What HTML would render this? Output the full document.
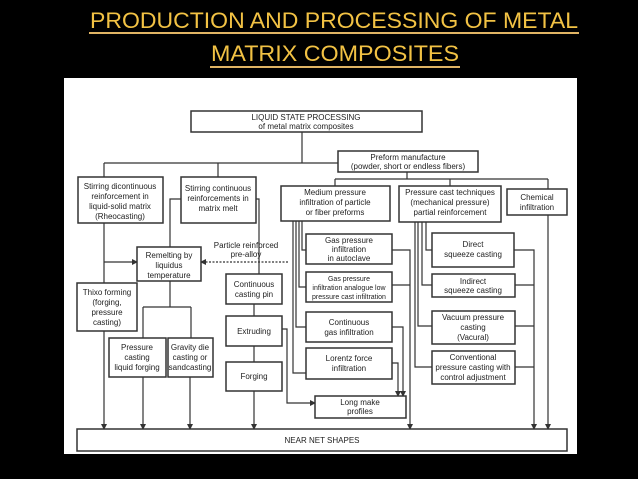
<!DOCTYPE html>
<html><head><meta charset="utf-8"><style>
html,body{margin:0;padding:0;background:#000;width:638px;height:479px;overflow:hidden}
svg{display:block}
.t{font-family:"Liberation Sans",sans-serif;font-size:8px;fill:#222;text-anchor:middle}
.b{fill:#fff;stroke:#333;stroke-width:1.5}
.l{stroke:#333;stroke-width:1.2;fill:none}
</style></head><body>
<svg width="638" height="479" viewBox="0 0 638 479" xmlns="http://www.w3.org/2000/svg">
<defs><marker id="a" markerWidth="6" markerHeight="6" refX="5" refY="3" orient="auto" markerUnits="userSpaceOnUse"><path d="M0,0 L6,3 L0,6z" fill="#333"/></marker></defs>
<text x="90" y="28" textLength="488" lengthAdjust="spacingAndGlyphs" style="font-family:'Liberation Sans',sans-serif;font-size:22px;fill:#f2c244">PRODUCTION AND PROCESSING OF METAL</text>
<rect x="89" y="32" width="490" height="2" fill="#e0b464"/>
<text x="211" y="61" textLength="248" lengthAdjust="spacingAndGlyphs" style="font-family:'Liberation Sans',sans-serif;font-size:22px;fill:#f2c244">MATRIX COMPOSITES</text>
<rect x="210" y="66" width="250" height="2" fill="#e0b464"/>
<rect x="64" y="78" width="513" height="376" fill="#fff"/>

<!-- connectors -->
<path class="l" d="M302 132V163M104 163H338M104 163V177M218 163V177"/>
<path class="l" d="M407 172V179M335 179H548M335 179V186M450 179V186M548 179V189"/>
<path class="l" d="M104 223V429" marker-end="url(#a)"/>
<path class="l" d="M104 262H137" marker-end="url(#a)"/>
<path class="l" d="M181 199H170V247M256 199H259V274"/>
<path class="l" d="M288 262H201" stroke-dasharray="2,1.5" marker-end="url(#a)"/>
<path class="l" d="M170 281V307M143 307H191M143 307V338M191 307V338"/>
<path class="l" d="M143 377V429" marker-end="url(#a)"/>
<path class="l" d="M190 377V429" marker-end="url(#a)"/>
<path class="l" d="M254 304V316M254 346V362"/>
<path class="l" d="M254 391V429" marker-end="url(#a)"/>
<path class="l" d="M282 329H287V403H315" marker-end="url(#a)"/>
<path class="l" d="M293 220V373H306M296 220V327H306M299 220V287H306M302 220V250H306"/>
<path class="l" d="M392 250H410V429" marker-end="url(#a)"/>
<path class="l" d="M392 285H410"/>
<path class="l" d="M392 327H403V396" marker-end="url(#a)"/>
<path class="l" d="M392 363H398V396" marker-end="url(#a)"/>
<path class="l" d="M415 222V367H432M418 222V326H432M422 222V285H432M426 222V250H432"/>
<path class="l" d="M514 250H534V429" marker-end="url(#a)"/>
<path class="l" d="M515 285H534M515 326H534M515 367H534"/>
<path class="l" d="M548 215V429" marker-end="url(#a)"/>

<!-- boxes -->
<rect class="b" x="191" y="111" width="231" height="21"/>
<text class="t" x="306" y="120">LIQUID STATE PROCESSING</text><text class="t" x="306" y="129">of metal matrix composites</text>
<rect class="b" x="338" y="151" width="140" height="21"/>
<text class="t" x="408" y="160">Preform manufacture</text><text class="t" x="408" y="169">(powder, short or endless fibers)</text>
<rect class="b" x="78" y="177" width="85" height="46"/>
<text class="t" x="120" y="189">Stirring dicontinuous</text><text class="t" x="120" y="199">reinforcement in</text><text class="t" x="120" y="209">liquid-solid matrix</text><text class="t" x="120" y="219">(Rheocasting)</text>
<rect class="b" x="181" y="177" width="75" height="46"/>
<text class="t" x="218" y="191">Stirring continuous</text><text class="t" x="218" y="201">reinforcements in</text><text class="t" x="218" y="211">matrix melt</text>
<rect class="b" x="281" y="186" width="109" height="35"/>
<text class="t" x="335" y="195">Medium pressure</text><text class="t" x="335" y="205">infiltration of particle</text><text class="t" x="335" y="215">or fiber preforms</text>
<rect class="b" x="399" y="186" width="102" height="36"/>
<text class="t" x="450" y="195">Pressure cast techniques</text><text class="t" x="450" y="205">(mechanical pressure)</text><text class="t" x="450" y="215">partial reinforcement</text>
<rect class="b" x="507" y="189" width="60" height="26"/>
<text class="t" x="537" y="200">Chemical</text><text class="t" x="537" y="210">infiltration</text>
<text class="t" x="246" y="248">Particle reinforced</text><text class="t" x="246" y="257">pre-alloy</text>
<rect class="b" x="137" y="247" width="64" height="34"/>
<text class="t" x="169" y="258">Remelting by</text><text class="t" x="169" y="268">liquidus</text><text class="t" x="169" y="278">temperature</text>
<rect class="b" x="77" y="283" width="60" height="48"/>
<text class="t" x="107" y="295">Thixo forming</text><text class="t" x="107" y="305">(forging,</text><text class="t" x="107" y="315">pressure</text><text class="t" x="107" y="325">casting)</text>
<rect class="b" x="109" y="338" width="57" height="39"/>
<text class="t" x="137" y="350">Pressure</text><text class="t" x="137" y="360">casting</text><text class="t" x="137" y="370">liquid forging</text>
<rect class="b" x="168" y="338" width="45" height="39"/>
<text class="t" x="190" y="350">Gravity die</text><text class="t" x="190" y="360">casting or</text><text class="t" x="190" y="370">sandcasting</text>
<rect class="b" x="226" y="274" width="56" height="30"/>
<text class="t" x="254" y="287">Continuous</text><text class="t" x="254" y="297">casting pin</text>
<rect class="b" x="226" y="316" width="56" height="30"/>
<text class="t" x="254" y="334">Extruding</text>
<rect class="b" x="226" y="362" width="56" height="29"/>
<text class="t" x="254" y="379">Forging</text>
<rect class="b" x="306" y="234" width="86" height="30"/>
<text class="t" x="349" y="243">Gas pressure</text><text class="t" x="349" y="252">infiltration</text><text class="t" x="349" y="261">in autoclave</text>
<rect class="b" x="306" y="272" width="86" height="30"/>
<text class="t" x="349" y="281" style="font-size:7px">Gas pressure</text><text class="t" x="349" y="290" style="font-size:7px">infiltration analogue low</text><text class="t" x="349" y="299" style="font-size:7px">pressure cast infiltration</text>
<rect class="b" x="306" y="312" width="86" height="30"/>
<text class="t" x="349" y="325">Continuous</text><text class="t" x="349" y="335">gas infiltration</text>
<rect class="b" x="306" y="348" width="86" height="31"/>
<text class="t" x="349" y="361">Lorentz force</text><text class="t" x="349" y="371">infiltration</text>
<rect class="b" x="315" y="396" width="91" height="22"/>
<text class="t" x="360" y="405">Long make</text><text class="t" x="360" y="414">profiles</text>
<rect class="b" x="432" y="233" width="82" height="34"/>
<text class="t" x="473" y="247">Direct</text><text class="t" x="473" y="257">squeeze casting</text>
<rect class="b" x="432" y="274" width="83" height="23"/>
<text class="t" x="473" y="284">Indirect</text><text class="t" x="473" y="293">squeeze casting</text>
<rect class="b" x="432" y="311" width="83" height="33"/>
<text class="t" x="473" y="320">Vacuum pressure</text><text class="t" x="473" y="330">casting</text><text class="t" x="473" y="340">(Vacural)</text>
<rect class="b" x="432" y="351" width="83" height="33"/>
<text class="t" x="473" y="360">Conventional</text><text class="t" x="473" y="370">pressure casting with</text><text class="t" x="473" y="380">control adjustment</text>
<rect class="b" x="77" y="429" width="490" height="22"/>
<text class="t" x="322" y="443">NEAR NET SHAPES</text>
</svg>
</body></html>
